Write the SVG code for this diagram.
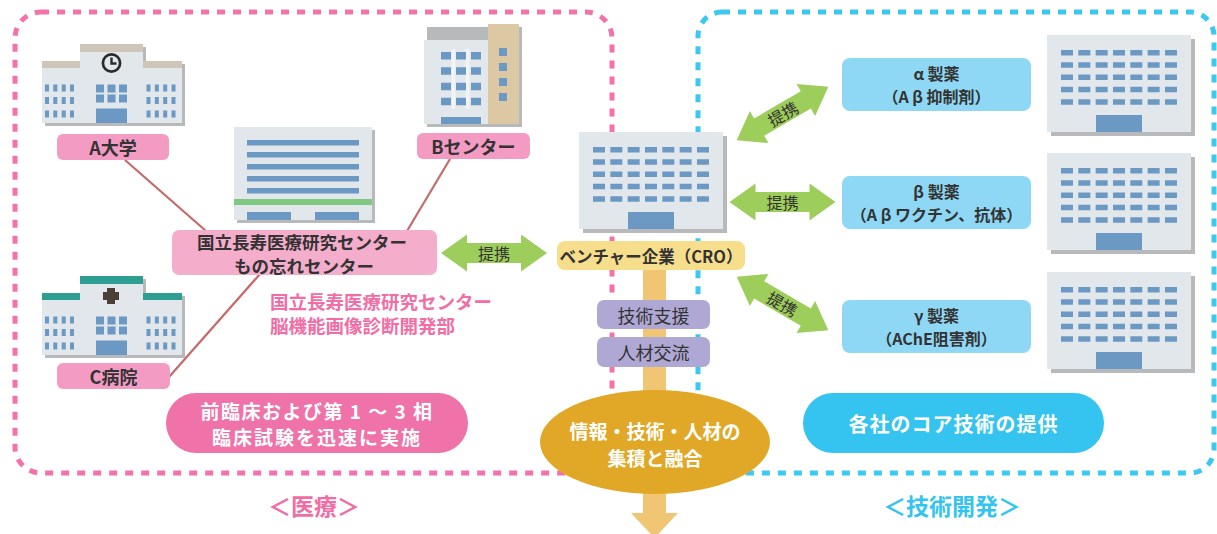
<svg xmlns="http://www.w3.org/2000/svg" xmlns:xlink="http://www.w3.org/1999/xlink" width="1217" height="534" viewBox="0 0 1217 534">
  <style>
    text { font-family: "Noto Sans CJK JP", "Noto Sans", sans-serif; text-anchor: middle; dominant-baseline: central; }
    .dark { fill: #333333; font-weight: bold; }
    .lbl { font-size: 16.5px; }
    .pharma { font-size: 16px; }
    .tagTxt { font-size: 18px; }
    .big { font-size: 17.5px; }
    .white { fill: #ffffff; font-weight: bold; }
    .pinkTxt { fill: #f06ea5; font-weight: bold; }
    .body { fill: #e2e7ec; }
    .shadow { fill: #b8b9ba; }
    .win { fill: #6b99c3; }
    .link { stroke: #c46a6a; stroke-width: 2.2; fill: none; }
    .tag { fill: #f49bc4; }
    .purple { fill: #b0a8d4; }
    .blueTag { fill: #8fd8f5; }
    .green { fill: #9dcd5a; }
    .arrowTxt { fill: #333333; font-size: 16px; }
  </style>
  <defs>
    <!-- generic office block, 144 x 97 -->
    <g id="office">
      <rect class="shadow" x="4" y="4" width="144" height="97"/>
      <rect class="body" x="0" y="0" width="144" height="97"/>
      <path d="M14,17.7 h116 M14,30 h116 M14,42.3 h116 M14,54.6 h116 M14,66.9 h116" stroke="#6b99c3" stroke-width="5.5" stroke-dasharray="12 5.33" fill="none"/>
      <rect class="win" x="49" y="80" width="46" height="17"/>
    </g>
    <!-- three-wing campus building (university / hospital) -->
    <g id="campus">
      <path class="shadow" d="M45,64 H83 V47 H146 V64 H185 V126 H45 Z"/>
      <path class="body" d="M42,61 H80 V44 H143 V61 H182 V123 H42 Z"/>
      <path d="M47,84.5 V91.5 M55.3,84.5 V91.5 M63.7,84.5 V91.5 M72,84.5 V91.5 M47,97 V104 M55.3,97 V104 M63.7,97 V104 M72,97 V104 M47,110.5 V117.5 M55.3,110.5 V117.5 M63.7,110.5 V117.5 M72,110.5 V117.5 M148.5,84.5 V91.5 M156.8,84.5 V91.5 M165.2,84.5 V91.5 M173.5,84.5 V91.5 M148.5,97 V104 M156.8,97 V104 M165.2,97 V104 M173.5,97 V104 M148.5,110.5 V117.5 M156.8,110.5 V117.5 M165.2,110.5 V117.5 M173.5,110.5 V117.5" stroke="#6b99c3" stroke-width="4" fill="none"/>
      <rect class="win" x="96" y="84.5" width="8" height="8"/>
      <rect class="win" x="107.5" y="84.5" width="8" height="8"/>
      <rect class="win" x="119" y="84.5" width="8" height="8"/>
      <rect class="win" x="96" y="94.5" width="8" height="8"/>
      <rect class="win" x="107.5" y="94.5" width="8" height="8"/>
      <rect class="win" x="119" y="94.5" width="8" height="8"/>
      <rect class="win" x="96" y="108.5" width="31" height="14.5"/>
    </g>
    <!-- double-headed cooperation arrow, centred on the origin -->
    <path id="dbl" d="M-53,0 L-27,-18.5 L-27,-10 L27,-10 L27,-18.5 L53,0 L27,18.5 L27,10 L-27,10 L-27,18.5 Z"/>
  </defs>

  <!-- dashed area frames -->
  <g id="frames" fill="none" stroke-width="5" stroke-dasharray="8 8">
    <rect x="15" y="12" width="597" height="461" rx="26" stroke="#f273aa"/>
    <rect x="698" y="12" width="516" height="461" rx="24" stroke="#3cc8f0"/>
  </g>

  <!-- connectors -->
  <g id="connectors">
    <line class="link" x1="125" y1="160" x2="206" y2="231"/>
    <line class="link" x1="450" y1="159" x2="407" y2="231"/>
    <line class="link" x1="169" y1="377" x2="260" y2="274"/>
    <!-- vertical flow arrow -->
    <rect x="643" y="268" width="23" height="246" fill="#f0c574"/>
    <path d="M631,513 H678 L654.5,538 Z" fill="#f0c574"/>
    <!-- cooperation arrows -->
    <g class="green">
      <use xlink:href="#dbl" transform="translate(494,253)"/>
      <use xlink:href="#dbl" transform="translate(782.5,202)"/>
      <use xlink:href="#dbl" transform="translate(782.5,113.5) rotate(-30.2)"/>
      <use xlink:href="#dbl" transform="translate(782.5,303.5) rotate(30.2)"/>
    </g>
    <text class="arrowTxt" x="494" y="253">提携</text>
    <text class="arrowTxt" x="782.5" y="202">提携</text>
    <text class="arrowTxt" transform="translate(782.5,113.5) rotate(-30.2)">提携</text>
    <text class="arrowTxt" transform="translate(782.5,303.5) rotate(30.2)">提携</text>
  </g>

  <!-- A university -->
  <g id="univA">
    <use xlink:href="#campus"/>
    <rect x="80" y="44" width="63" height="8" fill="#cfc5b9"/>
    <rect x="42" y="61" width="38" height="7" fill="#cfc5b9"/>
    <rect x="143" y="61" width="39" height="7" fill="#cfc5b9"/>
    <circle cx="111.5" cy="63" r="8.6" fill="none" stroke="#2b2b2b" stroke-width="2.7"/>
    <path d="M111.5,57.5 V63.5 H116.5" fill="none" stroke="#2b2b2b" stroke-width="2.4"/>
    <rect class="tag" x="57" y="134" width="112" height="26" rx="6"/>
    <text class="dark tagTxt" x="113" y="147">A大学</text>
  </g>

  <!-- B centre -->
  <g id="centerB">
    <rect class="shadow" x="427" y="27" width="95" height="100"/>
    <rect class="body" x="424" y="40" width="64" height="84"/>
    <rect x="488" y="24" width="31" height="100" fill="#dcc8a3"/>
    <rect x="451.5" y="49" width="4" height="60" fill="#f2f3f2"/>
    <rect x="465.5" y="49" width="4" height="60" fill="#f2f3f2"/>
    <path d="M441,55.8 h40 M441,71 h40 M441,86.5 h40 M441,101.5 h40" stroke="#6b99c3" stroke-width="7.5" stroke-dasharray="10 5" fill="none"/>
    <rect class="win" x="441" y="117" width="40" height="7"/>
    <path d="M503,48 V56 M503,63 V71 M503,78 V86 M503,93 V101" stroke="#6b99c3" stroke-width="8" fill="none"/>
    <rect class="tag" x="417" y="133" width="113" height="26" rx="6"/>
    <text class="dark tagTxt" x="473.5" y="146">Bセンター</text>
  </g>

  <!-- C hospital -->
  <g id="hospitalC">
    <use xlink:href="#campus" transform="translate(0,232)"/>
    <rect x="80" y="276" width="63" height="8" fill="#2e9e92"/>
    <rect x="42" y="293" width="38" height="7" fill="#2e9e92"/>
    <rect x="143" y="293" width="39" height="7" fill="#2e9e92"/>
    <path d="M107,290 h8 v4 h4 v8 h-4 v4 h-8 v-4 h-4 v-8 h4 Z" fill="#4a4038" transform="translate(0,-2)"/>
    <rect class="tag" x="57" y="363" width="113" height="26" rx="6"/>
    <text class="dark tagTxt" x="113.5" y="376">C病院</text>
  </g>

  <!-- national centre -->
  <g id="ncgg">
    <rect class="shadow" x="237" y="130" width="138" height="93"/>
    <rect class="body" x="234" y="127" width="138" height="93"/>
    <path d="M247,142.8 H359 M247,154.8 H359 M247,166.8 H359 M247,178.8 H359 M247,190.8 H359" stroke="#6b99c3" stroke-width="5.5" fill="none"/>
    <rect x="234" y="199" width="138" height="6" fill="#7ec882"/>
    <rect class="win" x="247" y="212" width="44" height="8"/>
    <rect class="win" x="315" y="212" width="44" height="8"/>
    <rect x="172" y="230" width="265" height="45" rx="7" fill="#f5adcc"/>
    <text class="dark big" x="302" y="241">国立長寿医療研究センター</text>
    <text class="dark big" x="304" y="265">もの忘れセンター</text>
  </g>

  <!-- department caption -->
  <g id="dept">
    <text class="pinkTxt" x="270" y="301" font-size="18.5" style="text-anchor:start">国立長寿医療研究センター</text>
    <text class="pinkTxt" x="270" y="325" font-size="18.5" style="text-anchor:start">脳機能画像診断開発部</text>
  </g>

  <!-- clinical trials pill -->
  <g id="clinical">
    <rect x="166" y="393" width="302" height="60" rx="30" fill="#ef72a8"/>
    <text class="white" x="317" y="410" font-size="19" letter-spacing="1.5">前臨床および第 1 ～ 3 相</text>
    <text class="white" x="317" y="436" font-size="19" letter-spacing="2">臨床試験を迅速に実施</text>
  </g>

  <!-- venture company -->
  <g id="cro">
    <use xlink:href="#office" transform="translate(579,132)"/>
    <rect x="557" y="241" width="188" height="29" rx="8" fill="#f6de8c"/>
    <text class="dark lbl" x="651" y="255.5">ベンチャー企業（CRO）</text>
  </g>

  <!-- support labels -->
  <g id="support">
    <rect class="purple" x="597" y="300" width="113" height="29" rx="7"/>
    <text x="653.5" y="314.5" font-size="18" fill="#333333">技術支援</text>
  </g>
  <g id="exchange">
    <rect class="purple" x="597" y="337" width="113" height="30" rx="7"/>
    <text x="653.5" y="352" font-size="18" fill="#333333">人材交流</text>
  </g>

  <!-- integration ellipse -->
  <g id="fusion">
    <ellipse cx="655" cy="442" rx="115" ry="52" fill="#e0a826"/>
    <text class="white" x="655" y="430.5" font-size="19">情報・技術・人材の</text>
    <text class="white" x="655" y="457.5" font-size="19">集積と融合</text>
  </g>

  <!-- pharma companies -->
  <g id="alpha">
    <rect class="blueTag" x="842" y="58" width="189" height="53" rx="8"/>
    <text class="dark pharma" x="936.5" y="72.5">α 製薬</text>
    <text class="dark pharma" x="936.5" y="95.5">（A β 抑制剤）</text>
    <use xlink:href="#office" transform="translate(1047,35)"/>
  </g>
  <g id="beta">
    <rect class="blueTag" x="842" y="176" width="189" height="53" rx="8"/>
    <text class="dark pharma" x="936.5" y="190.5">β 製薬</text>
    <text class="dark pharma" x="936.5" y="213.5">（A β ワクチン、抗体）</text>
    <use xlink:href="#office" transform="translate(1047,153)"/>
  </g>
  <g id="gamma">
    <rect class="blueTag" x="842" y="300" width="189" height="53" rx="8"/>
    <text class="dark pharma" x="936.5" y="314.5">γ 製薬</text>
    <text class="dark pharma" x="936.5" y="337.5">（AChE阻害剤）</text>
    <use xlink:href="#office" transform="translate(1047,272)"/>
  </g>

  <!-- core technology pill -->
  <g id="coreTech">
    <rect x="803" y="393" width="301" height="60" rx="30" fill="#35c4ef"/>
    <text class="white" x="953.5" y="423" font-size="20" letter-spacing="1">各社のコア技術の提供</text>
  </g>

  <!-- area captions -->
  <text x="314" y="505" font-size="23" font-weight="bold" fill="#f06ea5">＜医療＞</text>
  <text x="952" y="505" font-size="23" font-weight="bold" fill="#35c4ef">＜技術開発＞</text>
</svg>
